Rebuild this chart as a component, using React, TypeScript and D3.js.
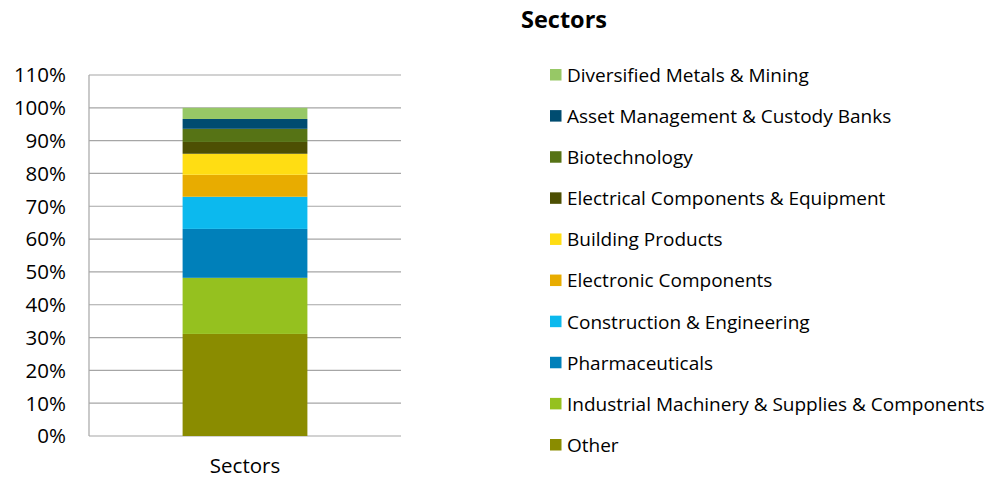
import React from "react";
import * as d3 from "d3";

const categories = ["Sectors"];
const sectors = [
  "Other",
  "Industrial Machinery & Supplies & Components",
  "Pharmaceuticals",
  "Construction & Engineering",
  "Electronic Components",
  "Building Products",
  "Electrical Components & Equipment",
  "Biotechnology",
  "Asset Management & Custody Banks",
  "Diversified Metals & Mining",
];
const shares = [31.1, 17.1, 14.9, 9.8, 6.7, 6.4, 3.6, 4.0, 3.0, 3.4];
const colors = [
  "#8A8C00",
  "#95C11F",
  "#0080BA",
  "#0CB9EE",
  "#E8AC00",
  "#FFDD13",
  "#4D4F03",
  "#567315",
  "#004C70",
  "#97C866",
];
const yTicks = [0, 10, 20, 30, 40, 50, 60, 70, 80, 90, 100, 110];

const FONT = "'Open Sans', 'Liberation Sans', sans-serif";

export default function App() {
  const width = 994;
  const height = 479;
  const plot = { left: 89, right: 401, top: 75, bottom: 436 };
  const y = d3.scaleLinear().domain([0, 110]).range([plot.bottom, plot.top]);
  const x = d3
    .scaleBand()
    .domain(categories)
    .range([plot.left, plot.right])
    .paddingInner(0)
    .paddingOuter(0.5);

  const row: Record<string, number> = { Sectors: 0 };
  sectors.forEach((s, i) => (row[s] = shares[i]));
  const stack = d3.stack<Record<string, number>>().keys(sectors)([row]);

  const bw = x.bandwidth();
  const legendItems = sectors.map((s, i) => ({ name: s, color: colors[i] })).reverse();
  const legendY = d3.scalePoint<number>().domain(d3.range(legendItems.length)).range([75, 445]);

  return (
    <div style={{ position: "fixed", left: 0, top: 0, width, height, overflow: "hidden" }}>
      <svg width={width} height={height} style={{ display: "block", fontFamily: FONT }}>
        <rect width={width} height={height} fill="#fff" />
        {yTicks.map((t) => (
          <line
            key={t}
            x1={plot.left}
            x2={plot.right}
            y1={y(t)}
            y2={y(t)}
            stroke="#A6A6A6"
            strokeWidth={1.2}
          />
        ))}
        <line x1={plot.left} x2={plot.left} y1={plot.top} y2={plot.bottom} stroke="#A6A6A6" strokeWidth={1.2} />
        {stack.map((layer, i) =>
          layer.map((d, j) => (
            <rect
              key={`${i}-${j}`}
              x={x(categories[j])! + bw * 0.1}
              width={bw * 0.8}
              y={y(d[1])}
              height={y(d[0]) - y(d[1])}
              fill={colors[i]}
            />
          ))
        )}
        {yTicks.map((t) => (
          <text key={t} x={66} y={y(t)} dy="0.36em" textAnchor="end" fontSize={20.5} fill="#000">
            {t}%
          </text>
        ))}
        {categories.map((c) => (
          <text key={c} x={x(c)! + bw / 2} y={466} dy="0.36em" textAnchor="middle" fontSize={20.5} fill="#000">
            {c}
          </text>
        ))}
        <text x={564} y={20} dy="0.36em" textAnchor="middle" fontSize={23.5} fontWeight="bold" fill="#000">
          Sectors
        </text>
        {legendItems.map((it, i) => (
          <g key={it.name} transform={`translate(550,${legendY(i)})`}>
            <rect x={0} y={-6} width={11.5} height={11.5} fill={it.color} />
            <text x={17} y={0} dy="0.36em" fontSize={19} fill="#000">
              {it.name}
            </text>
          </g>
        ))}
      </svg>
    </div>
  );
}
